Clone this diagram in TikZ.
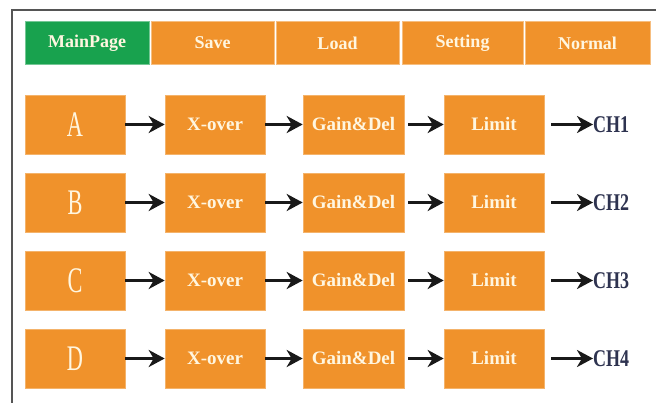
\documentclass[tikz,border=0pt]{standalone}
\usepackage{fontspec}
\usepackage{graphicx}
\setmainfont{Liberation Serif}
\usetikzlibrary{arrows.meta}
\definecolor{orng}{HTML}{F0922B}
\definecolor{grn}{HTML}{18A24E}
\definecolor{txt}{HTML}{FFF6E0}
\definecolor{chc}{HTML}{2E3350}
\definecolor{frm}{HTML}{555555}
\tikzset{
  tab/.style={fill=orng, draw=orng!60!white, line width=0.8pt, inner sep=0pt, text=txt, font=\bfseries\fontsize{18}{18}\selectfont},
  blk/.style={fill=orng, draw=orng!70!white, line width=0.6pt, minimum width=100pt, minimum height=59pt, inner sep=0pt, text=txt, font=\bfseries\fontsize{19}{19}\selectfont},
  conn/.style={line width=3pt, -{Stealth[length=16pt, width=17pt, inset=5pt]}, black!90},
  chl/.style={text=chc, font=\bfseries\fontsize{24}{24}\selectfont, anchor=west, inner sep=0pt}
}
\begin{document}
\begin{tikzpicture}[x=1pt, y=-1pt]
\useasboundingbox (0,0) rectangle (656,403);
\fill[white] (0,0) rectangle (656,403);
\draw[frm, line width=2pt] (12,410) -- (12,10) -- (660,10);
% tabs
\node[tab, fill=grn, draw=grn!60!white, minimum width=124pt, minimum height=43pt] (t1) at (87,43) {MainPage};
\node[tab, minimum width=123pt, minimum height=43pt] (t2) at (212.5,43) {Save};
\node[tab, minimum width=123pt, minimum height=43pt] (t3) at (337.5,43) {Load};
\node[tab, minimum width=121pt, minimum height=43pt] (t4) at (462.5,43) {Setting};
\node[tab, minimum width=125pt, minimum height=43pt] (t5) at (587.5,43) {Normal};
% rows
\foreach \L/\n [count=\i] in {A/1,B/2,C/3,D/4}{
  \pgfmathsetmacro{\yy}{124.5+78*(\i-1)}
  \node[blk, font=\fontsize{36}{36}\selectfont] (s\i) at (75,\yy) {\scalebox{0.62}[1]{\L}};
  \node[blk] (x\i) at (215,\yy) {X-over};
  \node[blk, minimum width=101pt] (g\i) at (353.5,\yy) {Gain\&Del};
  \node[blk] (l\i) at (494,\yy) {Limit};
  \node[chl] (c\i) at (593,\yy) {\scalebox{0.75}[1]{CH\n}};
  \draw[conn] (s\i.east) -- (x\i.west);
  \draw[conn] (x\i.east) -- (g\i.west);
  \draw[conn] ([xshift=4pt]g\i.east) -- (l\i.west);
  \draw[conn] ([xshift=7pt]l\i.east) -- (c\i.west);
}
\end{tikzpicture}
\end{document}
